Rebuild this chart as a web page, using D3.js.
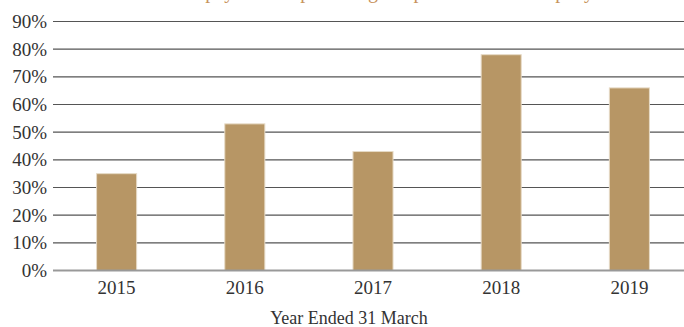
<!DOCTYPE html>
<html>
<head>
<meta charset="utf-8">
<script src="https://cdn.jsdelivr.net/npm/d3@7"></script>
<style>
  body { margin: 0; background: #fff; }
  svg { display: block; font-family: "Liberation Serif", "Times New Roman", serif; }
</style>
</head>
<body>
<div id="chart"></div>
<script>
var years = ["2015", "2016", "2017", "2018", "2019"];
var values = [35, 53, 43, 78, 66];
var yTicks = [0, 10, 20, 30, 40, 50, 60, 70, 80, 90];
var titleText = "Dividend payout as a percentage of profit for the company";
var xTitle = "Year Ended 31 March";

var w = 684, h = 327;
var svg = d3.select("#chart").append("svg")
    .attr("width", w)
    .attr("height", h);

var x = d3.scaleBand()
    .domain(years)
    .range([53, 693])
    .paddingInner(0.6875)
    .paddingOuter(0.34);

var y = d3.scaleLinear()
    .domain([0, 90])
    .range([270.5, 21.5]);

// title, mostly cut off at the top
svg.append("text")
    .attr("x", 360)
    .attr("y", -2)
    .attr("text-anchor", "middle")
    .style("font-size", "20px")
    .style("fill", "#c8935c")
    .text(titleText);

// gridlines
svg.append("g").selectAll("line")
    .data(yTicks.filter(function(d) { return d > 0; }))
    .enter().append("line")
    .attr("x1", 53).attr("x2", w)
    .attr("y1", function(d) { return y(d); })
    .attr("y2", function(d) { return y(d); })
    .style("stroke", "#555")
    .style("stroke-width", 1.2);

// y labels
svg.append("g").selectAll("text")
    .data(yTicks)
    .enter().append("text")
    .attr("x", 47)
    .attr("y", function(d) { return y(d); })
    .attr("dy", "0.35em")
    .attr("text-anchor", "end")
    .style("font-size", "19px")
    .style("fill", "#333")
    .text(function(d) { return d + "%"; });

// bars
svg.append("g").selectAll("rect")
    .data(values)
    .enter().append("rect")
    .attr("x", function(d, i) { return x(years[i]); })
    .attr("y", function(d) { return y(d); })
    .attr("width", x.bandwidth())
    .attr("height", function(d) { return y(0) - y(d); })
    .style("fill", "#b79665")
    .style("stroke", "#e6dac6")
    .style("stroke-width", 1);

// baseline
svg.append("line")
    .attr("x1", 53).attr("x2", w)
    .attr("y1", y(0)).attr("y2", y(0))
    .style("stroke", "#999")
    .style("stroke-width", 2);

// x labels
svg.append("g").selectAll("text")
    .data(years)
    .enter().append("text")
    .attr("x", function(d) { return x(d) + x.bandwidth() / 2; })
    .attr("y", 294)
    .attr("text-anchor", "middle")
    .style("font-size", "19px")
    .style("fill", "#333")
    .text(function(d) { return d; });

svg.append("text")
    .attr("x", 349)
    .attr("y", 324)
    .attr("text-anchor", "middle")
    .style("font-size", "18px")
    .style("fill", "#333")
    .text(xTitle);
</script>
</body>
</html>
